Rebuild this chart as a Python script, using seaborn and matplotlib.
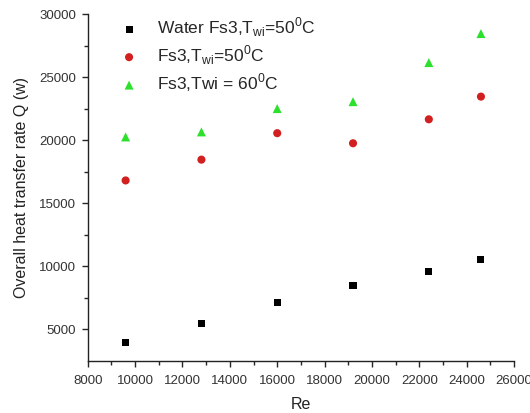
import matplotlib
matplotlib.use("Agg")
import matplotlib.pyplot as plt
import matplotlib.ticker as ticker
import seaborn as sns
import pandas as pd

# Datos
re_vals = [9600, 12800, 16000, 19200, 22400, 24600]
q_water = [3970, 5450, 7150, 8450, 9590, 10520]
q_fs3_50 = [16800, 18450, 20550, 19750, 21650, 23450]
q_fs3_60 = [20250, 20650, 22500, 23050, 26150, 28450]

labels = [r"Water Fs3,T$_{\mathrm{wi}}$=50$^{0}$C",
          r"Fs3,T$_{\mathrm{wi}}$=50$^{0}$C",
          r"Fs3,Twi = 60$^{0}$C"]

sns.set_style("ticks")
plt.rcParams['font.family'] = ['Liberation Sans', 'DejaVu Sans']
plt.rcParams['mathtext.fontset'] = 'custom'
plt.rcParams['mathtext.rm'] = 'Liberation Sans'

fig = plt.figure(figsize=(5.3, 4.13), dpi=100)
ax = fig.add_axes([0.1655, 0.1266, 0.8045, 0.8394])

df = pd.DataFrame({"Re": re_vals, "water": q_water, "fs50": q_fs3_50, "fs60": q_fs3_60})

sns.scatterplot(x="Re", y="water", data=df, marker="s", color="black", s=26,
                edgecolor="none", ax=ax, label=labels[0])
sns.scatterplot(x="Re", y="fs50", data=df, marker="o", color="#d21f1f", s=34,
                edgecolor="none", ax=ax, label=labels[1])
sns.scatterplot(x="Re", y="fs60", data=df, marker="^", color="#2ee02e", s=42,
                edgecolor="none", ax=ax, label=labels[2])

ax.set_xlim(8000, 26000)
ax.set_ylim(2500, 30000)
ax.xaxis.set_major_locator(ticker.MultipleLocator(2000))
ax.xaxis.set_minor_locator(ticker.MultipleLocator(1000))
ax.yaxis.set_major_locator(ticker.FixedLocator([5000, 10000, 15000, 20000, 25000, 30000]))
ax.yaxis.set_minor_locator(ticker.FixedLocator([7500, 12500, 17500, 22500, 27500]))
ax.tick_params(axis='both', which='major', direction='out', length=4.5, width=1,
               labelsize=9.5, labelcolor='#333333', pad=4)
ax.tick_params(axis='x', which='major', pad=6)
ax.tick_params(axis='both', which='minor', direction='out', length=3, width=1)

ax.set_xlabel("Re", fontsize=11.5, color='#222222', labelpad=7)
ax.set_ylabel("Overall heat transfer rate Q (w)", fontsize=11.5, color='#222222', labelpad=7)

for s in ['left', 'bottom']:
    ax.spines[s].set_color('#222222')
    ax.spines[s].set_linewidth(1)
sns.despine(ax=ax)

ax.legend(loc='upper left', frameon=False, fontsize=12.5, handletextpad=0.6,
          borderaxespad=0.0, labelspacing=0.25, bbox_to_anchor=(0.04, 1.015))

fig.savefig("out.png", dpi=100)
